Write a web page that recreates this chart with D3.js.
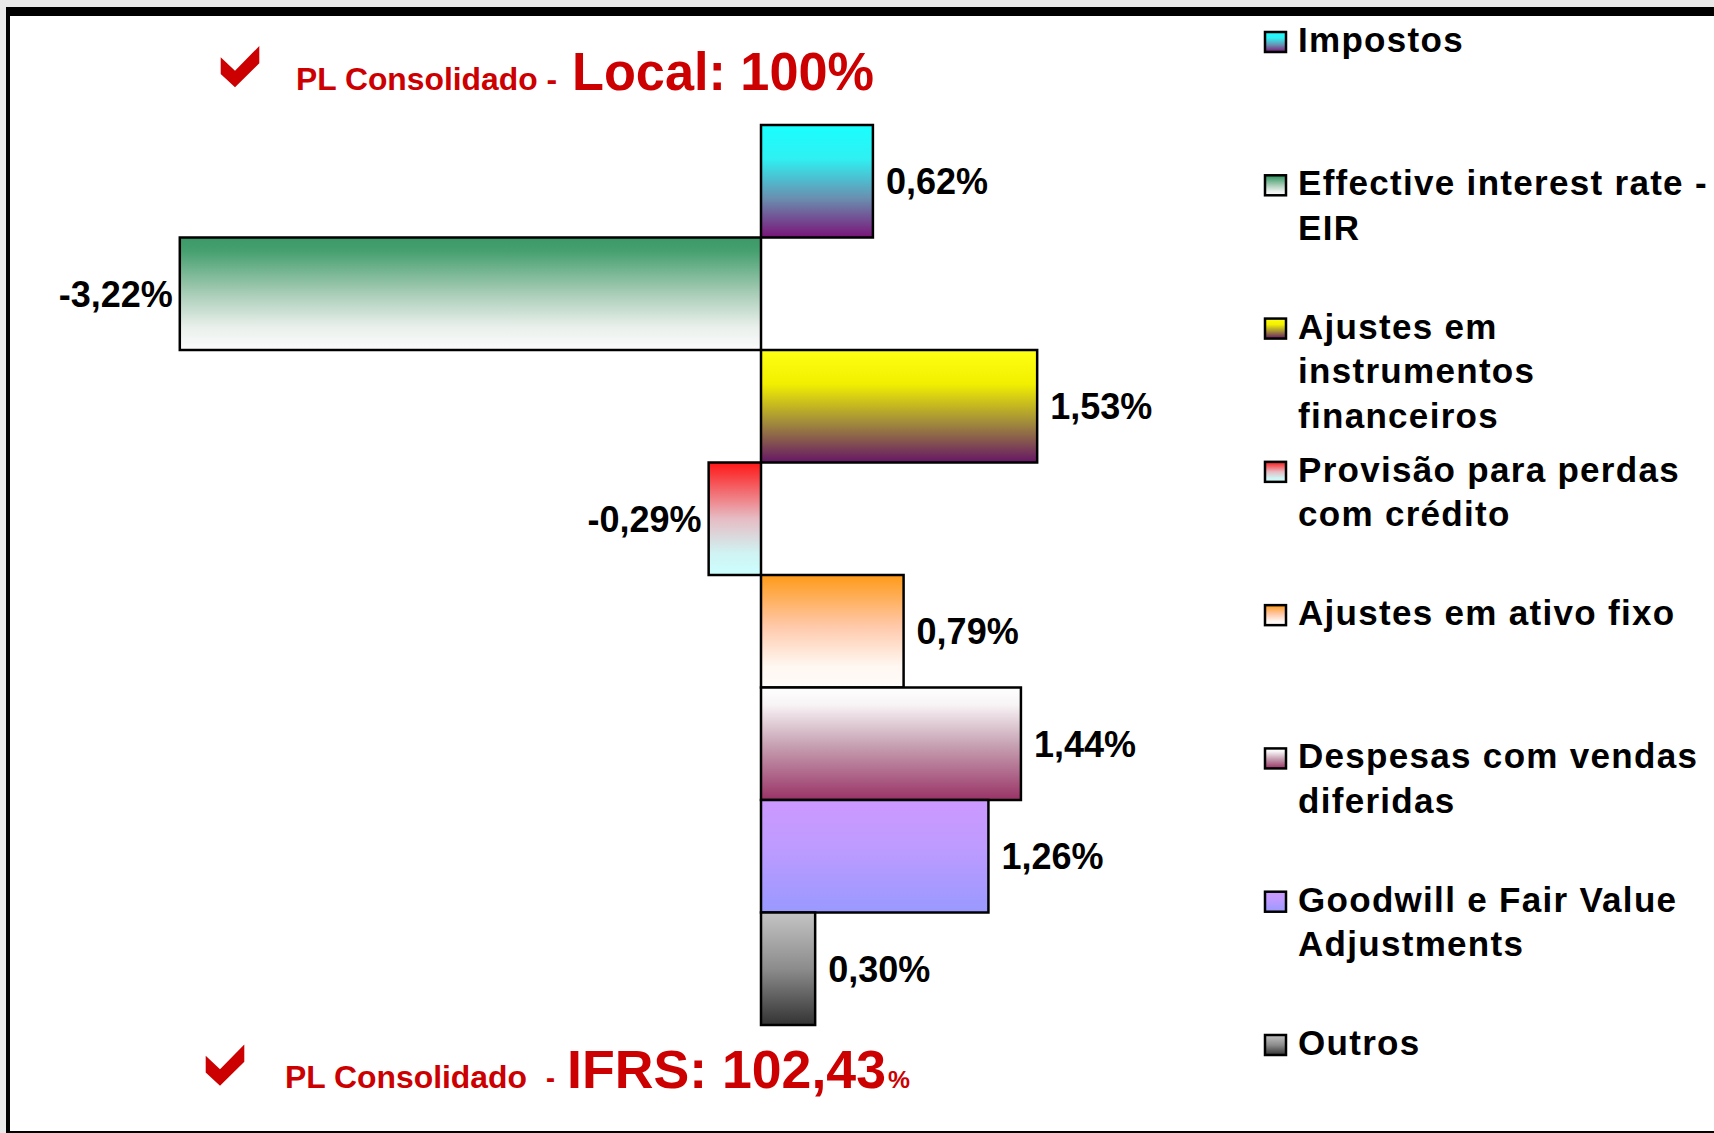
<!DOCTYPE html>
<html>
<head>
<meta charset="utf-8">
<script src="https://cdn.jsdelivr.net/npm/d3@7"></script>
<style>
  body { margin: 0; background: #e9e9e9; }
  svg { display: block; font-family: "Liberation Sans", Arial, sans-serif; }
</style>
</head>
<body>
<div id="graph"></div>
<script>
const width = 1714,
  height = 1133;

// data
const categories = [
  "Impostos",
  "Effective interest rate - EIR",
  "Ajustes em instrumentos financeiros",
  "Provisão para perdas com crédito",
  "Ajustes em ativo fixo",
  "Despesas com vendas diferidas",
  "Goodwill e Fair Value Adjustments",
  "Outros"
];
const values = [0.62, -3.22, 1.53, -0.29, 0.79, 1.44, 1.26, 0.30];
const legendLines = [
  ["Impostos"],
  ["Effective interest rate -", "EIR"],
  ["Ajustes em", "instrumentos", "financeiros"],
  ["Provisão para perdas", "com crédito"],
  ["Ajustes em ativo fixo"],
  ["Despesas com vendas", "diferidas"],
  ["Goodwill e Fair Value", "Adjustments"],
  ["Outros"]
];

// gradient stops per category (top -> bottom)
const gradients = [
  [[0, "#19ffff"], [0.3, "#2ff0f2"], [0.65, "#6a8fb0"], [1, "#7a1478"]],
  [[0, "#3c9966"], [0.12, "#46a070"], [0.5, "#a9cdb7"], [0.8, "#eaf0ec"], [1, "#fbfbfb"]],
  [[0, "#ffff14"], [0.3, "#f2f000"], [0.65, "#a08a3c"], [1, "#651665"]],
  [[0, "#ff1616"], [0.5, "#e6bcc4"], [0.8, "#d0f2f2"], [1, "#ccffff"]],
  [[0, "#ff9a18"], [0.45, "#ffc8a8"], [0.8, "#fff6f0"], [1, "#fffcfa"]],
  [[0, "#ffffff"], [0.15, "#f8f4f6"], [0.5, "#c8a4b4"], [1, "#993366"]],
  [[0, "#cc99ff"], [0.4, "#bf9bff"], [1, "#9999ff"]],
  [[0, "#c4c4c4"], [0.5, "#8c8c8c"], [1, "#333333"]]
];

const fmt = d3.formatLocale({ decimal: ",", thousands: ".", grouping: [3], currency: ["", ""], minus: "-" }).format(".2f");

const svg = d3.select("#graph").append("svg")
  .attr("width", width)
  .attr("height", height);

// frame
svg.append("rect").attr("width", width).attr("height", height).attr("fill", "#e9e9e9");
svg.append("rect").attr("x", 6).attr("y", 7).attr("width", width).attr("height", height).attr("fill", "#000");
svg.append("rect").attr("x", 10).attr("y", 16).attr("width", width).attr("height", 1115).attr("fill", "#fff");

const defs = svg.append("defs");
gradients.forEach((stops, i) => {
  const g = defs.append("linearGradient")
    .attr("id", "grad" + i)
    .attr("x1", 0).attr("y1", 0).attr("x2", 0).attr("y2", 1);
  stops.forEach(s => g.append("stop").attr("offset", s[0]).attr("stop-color", s[1]));
});

const data = categories.map((c, i) => ({ name: c, value: values[i], i: i }));

const x = d3.scaleLinear()
  .domain([-4, 3])
  .range([39, 1302.5]);

const y = d3.scaleBand()
  .domain(categories)
  .range([125, 1025])
  .padding(0);

const bars = svg.append("g");

bars.selectAll("rect")
  .data(data)
  .join("rect")
  .attr("x", d => x(Math.min(0, d.value)))
  .attr("y", d => y(d.name))
  .attr("width", d => Math.abs(x(d.value) - x(0)))
  .attr("height", y.bandwidth())
  .attr("fill", d => `url(#grad${d.i})`)
  .attr("stroke", "#000")
  .attr("stroke-width", 2.5);

bars.selectAll("text")
  .data(data)
  .join("text")
  .attr("x", d => d.value < 0 ? x(d.value) - 7 : x(d.value) + 13)
  .attr("y", d => y(d.name) + y.bandwidth() / 2)
  .attr("dy", "0.36em")
  .attr("text-anchor", d => d.value < 0 ? "end" : "start")
  .attr("font-size", 36)
  .attr("font-weight", "bold")
  .attr("fill", "#000")
  .text(d => fmt(d.value) + "%");

// legend
const ly = d3.scalePoint()
  .domain(categories)
  .range([52, 1055]);

const legend = svg.append("g")
  .selectAll("g")
  .data(data)
  .join("g")
  .attr("transform", d => `translate(1265,${ly(d.name)})`);

legend.append("rect")
  .attr("x", 0)
  .attr("y", -20)
  .attr("width", 21)
  .attr("height", 20)
  .attr("fill", d => `url(#grad${d.i})`)
  .attr("stroke", "#000")
  .attr("stroke-width", 2.5);

legend.append("text")
  .attr("font-size", 35)
  .attr("font-weight", "bold")
  .attr("letter-spacing", 1.3)
  .attr("fill", "#000")
  .selectAll("tspan")
  .data(d => legendLines[d.i])
  .join("tspan")
  .attr("x", 33)
  .attr("y", (d, j) => j * 44.5)
  .text(d => d);

// titles
const red = "#cc0000";
function check(g, x0, y0) {
  g.append("polygon")
    .attr("points", [[0, 11.3], [14.3, 24.7], [38.6, 0], [38.6, 17.3], [14.3, 41.3], [0, 28]]
      .map(p => [p[0] + x0, p[1] + y0].join(",")).join(" "))
    .attr("fill", red);
}
function title(g, str, x0, y0, size, len) {
  g.append("text")
    .attr("x", x0)
    .attr("y", y0)
    .attr("font-size", size)
    .attr("font-weight", "bold")
    .attr("fill", red)
    .attr("textLength", len)
    .attr("lengthAdjust", "spacingAndGlyphs")
    .text(str);
}

const titles = svg.append("g");
check(titles, 220.7, 46);
title(titles, "PL Consolidado -", 296, 89.5, 32, 261);
title(titles, "Local: 100%", 572, 90, 54, 302);

check(titles, 205.7, 1044.5);
title(titles, "PL Consolidado", 285, 1087.5, 31.5, 242);
title(titles, "-", 546, 1087.5, 31.5, 9);
title(titles, "IFRS: 102,43", 567, 1088, 53, 319);
title(titles, "%", 888, 1088, 24, 22);
</script>
</body>
</html>
